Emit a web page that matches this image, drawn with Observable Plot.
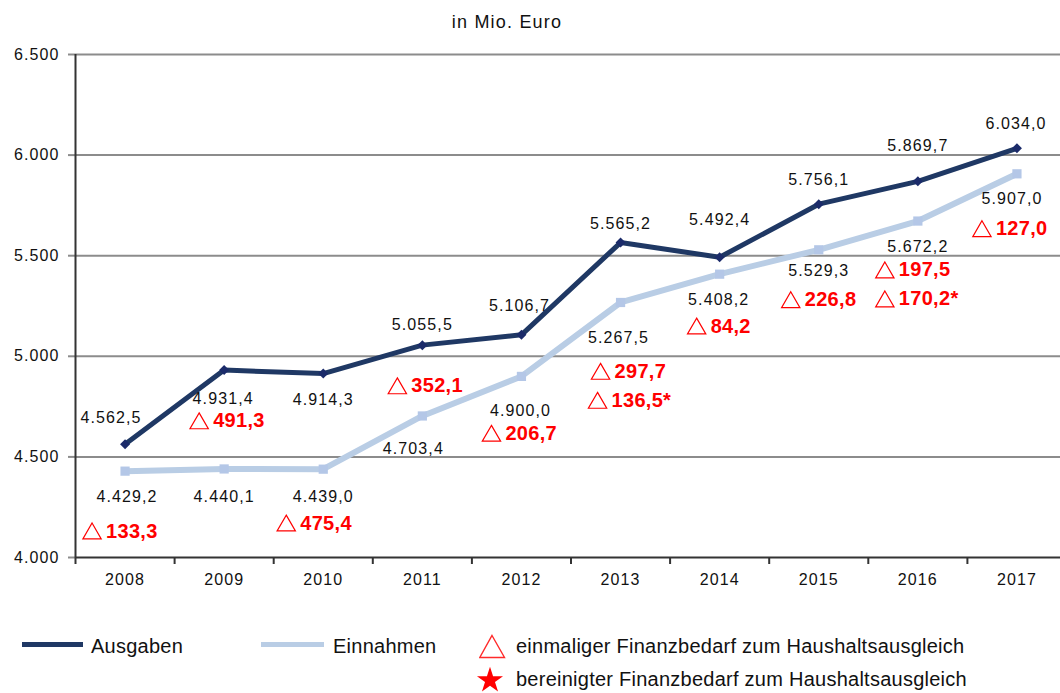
<!DOCTYPE html>
<html>
<head>
<meta charset="utf-8">
<script src="https://cdn.jsdelivr.net/npm/d3@7"></script>
<script src="https://cdn.jsdelivr.net/npm/@observablehq/plot@0.6"></script>
<style>
  body { margin: 0; background: #fff; width: 1060px; height: 693px; position: relative; overflow: hidden; font-family: "Liberation Sans", Arial, sans-serif; color: #111; }
  #title { position: absolute; left: 0; top: 12px; width: 1014px; text-align: center; font-size: 18px; line-height: 20px; letter-spacing: 1.2px; }
  #chart { position: absolute; left: 0; top: 40px; }
  #chart svg text { letter-spacing: 1.1px; }
  #chart svg g[fill="red"] text { letter-spacing: 0.3px; }
  .lg { position: absolute; font-size: 20px; line-height: 23px; white-space: nowrap; color: #111; letter-spacing: 0.25px; }
  .sw { position: absolute; height: 5px; }
  .ic { position: absolute; }
</style>
</head>
<body>
<div id="title">in Mio. Euro</div>
<div id="chart"></div>
<div id="legend"></div>
<script>
// ---- data ----
const years = [2008, 2009, 2010, 2011, 2012, 2013, 2014, 2015, 2016, 2017];
const ausgaben = [4562.5, 4931.4, 4914.3, 5055.5, 5106.7, 5565.2, 5492.4, 5756.1, 5869.7, 6034.0];
const einnahmen = [4429.2, 4440.1, 4439.0, 4703.4, 4900.0, 5267.5, 5408.2, 5529.3, 5672.2, 5907.0];
const bedarf = [133.3, 491.3, 475.4, 352.1, 206.7, 297.7, 84.2, 226.8, 197.5, 127.0];
const bereinigtYears = [2013, 2016];
const bereinigt = [136.5, 170.2];
const yTicks = [4000, 4500, 5000, 5500, 6000, 6500];
const seriesNames = ["Ausgaben", "Einnahmen"];
const legendTexts = ["einmaliger Finanzbedarf zum Haushaltsausgleich", "bereinigter Finanzbedarf zum Haushaltsausgleich"];

// ---- label placement (pixel offsets, styling only) ----
const ausDx = [-14, -1, 0, 0, -2, 0, 0, 0, 0, -1];
const ausDy = [-26, 29, 26, -20, -29, -19, -37, -24, -35, -24];
const einDx = [2, 0, 0, -9, -1, -2, -1, 0, 0, -5];
const einDy = [26, 28, 28, 33, 34, 35, 26, 21, 26, 25];
const bedDx = [-19, -11, -23, -11, -16, -6, -9, -14, -19, -21];
const bedDy = [60, -48, 54, -30, 57, 69, 52, 50, 49, 55];
const berDx = [-9, -19];
const berDy = [98, 78];

const colAus = "#1f3864", colAusMark = "#1b2b6a";
const colEin = "#b9cde5", colEinMark = "#b4c7e7";

const de = d3.formatLocale({decimal: ",", thousands: ".", grouping: [3], currency: ["", " €"]});
const fmt1 = de.format(",.1f");
const fmt0 = de.format(",.0f");

const rows = years.map((yr, i) => ({year: yr, ausgaben: ausgaben[i], einnahmen: einnahmen[i], bedarf: bedarf[i]}));
const bounds = [years[0] - 0.5, ...years.map(y => y + 0.5)];

const labelMarks = [];
rows.forEach((r, i) => {
  labelMarks.push(Plot.text([r], {x: "year", y: "ausgaben", text: d => fmt1(d.ausgaben), dx: ausDx[i], dy: ausDy[i], fill: "#111", fontSize: 16}));
  labelMarks.push(Plot.text([r], {x: "year", y: "einnahmen", text: d => fmt1(d.einnahmen), dx: einDx[i], dy: einDy[i], fill: "#111", fontSize: 16}));
  labelMarks.push(Plot.dot([r], {x: "year", y: "einnahmen", symbol: "triangle", r: 6.8, fill: "none", stroke: "red", strokeWidth: 1.2, dx: bedDx[i] - 14, dy: bedDy[i] + 2.5}));
  labelMarks.push(Plot.text([r], {x: "year", y: "einnahmen", text: d => fmt1(d.bedarf), textAnchor: "start", dx: bedDx[i], dy: bedDy[i], fill: "red", fontWeight: "bold", fontSize: 20}));
});
bereinigtYears.forEach((yr, j) => {
  const r = rows.find(d => d.year === yr);
  labelMarks.push(Plot.dot([r], {x: "year", y: "einnahmen", symbol: "triangle", r: 6.8, fill: "none", stroke: "red", strokeWidth: 1.2, dx: berDx[j] - 14, dy: berDy[j] + 2.5}));
  labelMarks.push(Plot.text([r], {x: "year", y: "einnahmen", text: () => fmt1(bereinigt[j]) + "*", textAnchor: "start", dx: berDx[j], dy: berDy[j], fill: "red", fontWeight: "bold", fontSize: 20}));
});

const chart = Plot.plot({
  width: 1060,
  height: 580,
  marginTop: 14,
  marginBottom: 63,
  marginLeft: 75,
  marginRight: 0,
  x: {type: "linear", domain: [bounds[0], bounds[bounds.length - 1]], range: [75, 1066]},
  y: {domain: [yTicks[0], yTicks[yTicks.length - 1]]},
  style: {fontFamily: "'Liberation Sans', Arial, sans-serif", fontSize: "16px", color: "#111", background: "white", overflow: "visible"},
  marks: [
    Plot.ruleY(yTicks.slice(1), {stroke: "#8c8c8c", strokeWidth: 2}),
    Plot.axisY({ticks: yTicks, tickSize: 7, tickPadding: 9, tickFormat: fmt0, stroke: "#8c8c8c", strokeWidth: 2, label: null, fontSize: 16}),
    Plot.axisX({ticks: bounds, tickSize: 7, tickFormat: () => "", stroke: "#333", strokeWidth: 2, label: null}),
    Plot.axisX({ticks: years, tickSize: 0, tickPadding: 16, tickFormat: d => String(d), label: null, fontSize: 16}),
    Plot.ruleY([yTicks[0]], {stroke: "#333", strokeWidth: 2}),
    Plot.ruleX([bounds[0]], {stroke: "#333", strokeWidth: 2}),
    Plot.line(rows, {x: "year", y: "einnahmen", stroke: colEin, strokeWidth: 6}),
    Plot.dot(rows, {x: "year", y: "einnahmen", symbol: "square", r: 5.2, fill: colEinMark}),
    Plot.line(rows, {x: "year", y: "ausgaben", stroke: colAus, strokeWidth: 5}),
    Plot.dot(rows, {x: "year", y: "ausgaben", symbol: "diamond2", r: 4.5, fill: colAusMark}),
    ...labelMarks
  ]
});
document.getElementById("chart").appendChild(chart);

// ---- legend ----
const lg = document.getElementById("legend");
function add(html) { lg.insertAdjacentHTML("beforeend", html); }
add(`<div class="sw" style="left:22px;top:642px;width:61px;background:${colAus}"></div>`);
add(`<div class="lg" style="left:91px;top:635px">${seriesNames[0]}</div>`);
add(`<div class="sw" style="left:261px;top:642px;width:63px;background:${colEin}"></div>`);
add(`<div class="lg" style="left:333px;top:635px">${seriesNames[1]}</div>`);
add(`<svg class="ic" style="left:479px;top:634px" width="27" height="25"><polygon points="13,1.5 25.5,23.5 0.8,23.5" fill="none" stroke="#ff2a2a" stroke-width="1.4"/></svg>`);
add(`<div class="lg" style="left:516px;top:635px">${legendTexts[0]}</div>`);
const starPath = d3.symbol(d3.symbolStar, 211)();
add(`<svg class="ic" style="left:476px;top:666px" width="28" height="27"><path transform="translate(14,14.5)" d="${starPath}" fill="red"/></svg>`);
add(`<div class="lg" style="left:516px;top:668px">${legendTexts[1]}</div>`);
</script>
</body>
</html>
